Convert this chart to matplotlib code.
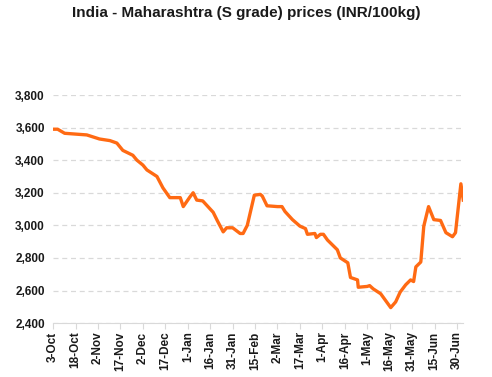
import matplotlib
matplotlib.use("Agg")
import matplotlib.pyplot as plt
import numpy as np

plt.rcParams['font.family'] = ['Liberation Sans', 'DejaVu Sans']

# days counted from 3-Oct
days = [0, 3, 7.7, 22.5, 31, 38, 42.6, 46.6, 53.3, 56, 60, 62.7, 69.4, 73.4, 78, 85,
        87, 91.5, 93.6, 96, 100, 103, 107, 109.7, 113.7, 116, 120, 125, 127, 129.8,
        134.5, 138.5, 139.8, 143, 150, 153, 155, 160, 165, 168.7, 170, 175, 176,
        178.7, 180.7, 183.4, 190, 192, 197, 198.8, 203.5, 204, 210, 211.6, 214, 219,
        225.7, 229, 232, 235.7, 239, 241, 242.5, 245.8, 247.8, 251, 254.5, 259, 262.6,
        267, 269, 272.6, 274.2]
price = [3590, 3590, 3565, 3555, 3530, 3520, 3505, 3460, 3430, 3400, 3370, 3340, 3300,
         3230, 3170, 3170, 3115, 3175, 3200, 3155, 3150, 3120, 3080, 3030, 2960, 2985,
         2985, 2950, 2950, 3000, 3185, 3190, 3180, 3120, 3115, 3115, 3085, 3035, 2995,
         2980, 2945, 2950, 2925, 2945, 2945, 2910, 2850, 2800, 2770, 2680, 2665, 2620,
         2625, 2630, 2610, 2580, 2495, 2530, 2590, 2635, 2665, 2655, 2745, 2775, 2995,
         3115, 3035, 3030, 2955, 2930, 2955, 3255, 3155]

tick_labels = ['3-Oct', '18-Oct', '2-Nov', '17-Nov', '2-Dec', '17-Dec', '1-Jan', '16-Jan',
               '31-Jan', '15-Feb', '2-Mar', '17-Mar', '1-Apr', '16-Apr', '1-May', '16-May',
               '31-May', '15-Jun', '30-Jun']
tick_days = np.arange(len(tick_labels)) * 15

fig = plt.figure(figsize=(4.92, 3.77), dpi=100)
ax = fig.add_axes([0.108, 0.143, 0.833, 0.605])

ax.plot(days, price, color='#FF6A13', linewidth=2.4, solid_joinstyle='round')

ax.set_ylim(2400, 3800)
ax.set_xlim(0, 274)
ax.set_yticks(np.arange(2400, 3801, 200))
ax.set_yticklabels([f"{v:,}" for v in range(2400, 3801, 200)])
ax.set_xticks(tick_days)
ax.set_xticklabels(tick_labels, rotation=90)

ax.yaxis.grid(True, linestyle=(0, (4, 3)), color='#D9D9D9', linewidth=0.9)
ax.set_axisbelow(True)
for s in ['top', 'right', 'left']:
    ax.spines[s].set_visible(False)
ax.spines['bottom'].set_color('#D9D9D9')
ax.tick_params(axis='y', length=0, pad=6, labelsize=8.5)
ax.tick_params(axis='x', length=4, color='#D9D9D9', pad=2, labelsize=8.5)
for lab in ax.get_xticklabels() + ax.get_yticklabels():
    lab.set_fontweight('bold')
    lab.set_color('#1a1a1a')

fig.text(0.5, 0.965, 'India - Maharashtra (S grade) prices (INR/100kg)', ha='center', va='center',
         fontsize=11, fontweight='bold', color='#1a1a1a')

fig.savefig('out.png', dpi=100)
